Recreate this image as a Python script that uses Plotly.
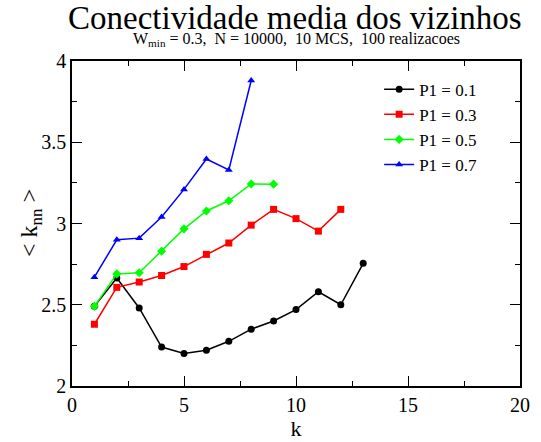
import plotly.graph_objects as go

k1 = list(range(1, 14))
p01 = [2.49, 2.665, 2.48, 2.24, 2.20, 2.22, 2.275, 2.35, 2.40, 2.47, 2.58, 2.50, 2.755]
k3 = list(range(1, 13))
p03 = [2.38, 2.607, 2.64, 2.68, 2.735, 2.81, 2.88, 2.99, 3.087, 3.03, 2.953, 3.087]
k5 = list(range(1, 10))
p05 = [2.49, 2.69, 2.697, 2.83, 2.967, 3.077, 3.14, 3.243, 3.242]
k7 = list(range(1, 9))
p07 = [2.67, 2.90, 2.91, 3.04, 3.21, 3.397, 3.33, 3.88]

series = [
    ("P1 = 0.1", k1, p01, "#000000", "circle"),
    ("P1 = 0.3", k3, p03, "#ff0000", "square"),
    ("P1 = 0.5", k5, p05, "#00ff00", "diamond"),
    ("P1 = 0.7", k7, p07, "#0000ff", "triangle-up"),
]

FONT = "Liberation Serif"
fig = go.Figure()
for name, x, y, c, sym in series:
    fig.add_trace(go.Scatter(x=x, y=y, name=name, mode="lines+markers",
                             line=dict(color=c, width=1.5),
                             marker=dict(color=c, symbol=sym, size=7)))

fig.update_xaxes(range=[0, 20], tickmode="array", tickvals=[0, 5, 10, 15, 20],
                 ticktext=["0", "5", "10", "15", "20"],
                 showgrid=False, zeroline=False, showline=True, linecolor="black",
                 linewidth=1.5, mirror="ticks", ticks="inside", ticklen=10,
                 tickwidth=1.2, tickcolor="black",
                 tickfont=dict(family=FONT, size=20, color="black"),
                 minor=dict(ticks="inside", ticklen=5, dtick=2.5, tickcolor="black", tickwidth=1.2),
                 title=dict(text="k", font=dict(family=FONT, size=22, color="black"), standoff=0))
fig.update_yaxes(range=[2, 4], tickmode="array", tickvals=[2, 2.5, 3, 3.5, 4],
                 ticktext=["2", "2.5", "3", "3.5", "4"],
                 showgrid=False, zeroline=False, showline=True, linecolor="black",
                 linewidth=1.5, mirror="ticks", ticks="inside", ticklen=10,
                 tickwidth=1.2, tickcolor="black",
                 tickfont=dict(family=FONT, size=20, color="black"),
                 minor=dict(ticks="inside", ticklen=5, dtick=0.25, tickcolor="black", tickwidth=1.2))

W, H, L, R, T, B = 541, 442, 72, 11, 61, 46
pw, ph = W - L - R, H - T - B


def py(px):
    # pixel-from-top -> paper y
    return (T + ph - px) / ph


fig.update_layout(
    width=W, height=H,
    font=dict(family=FONT, color="black"),
    margin=dict(l=L, r=R, t=T, b=B),
    plot_bgcolor="white", paper_bgcolor="white",
    showlegend=True,
    legend=dict(x=(386 - L) / pw, y=py(72), xanchor="left", yanchor="top",
                font=dict(family=FONT, size=17, color="black"),
                bgcolor="rgba(0,0,0,0)", tracegroupgap=0, itemwidth=30),
    annotations=[
        dict(text="Conectividade media dos vizinhos", x=(300 - L) / pw, y=py(37),
             xref="paper", yref="paper", showarrow=False,
             font=dict(family=FONT, size=33, color="black"),
             xanchor="center", yanchor="bottom"),
        dict(text="W<sub>min</sub> = 0.3,  N = 10000,  10 MCS,  100 realizacoes",
             x=(301 - L) / pw, y=py(51),
             xref="paper", yref="paper", showarrow=False,
             font=dict(family=FONT, size=16, color="black"), xanchor="center", yanchor="bottom"),
        dict(text="< k<sub>nn</sub> >", x=(30 - L) / pw, y=py(228),
             xref="paper", yref="paper", showarrow=False, textangle=-90,
             font=dict(family=FONT, size=24, color="black"), xanchor="center", yanchor="middle"),
    ],
)

fig.write_html("out.html")
